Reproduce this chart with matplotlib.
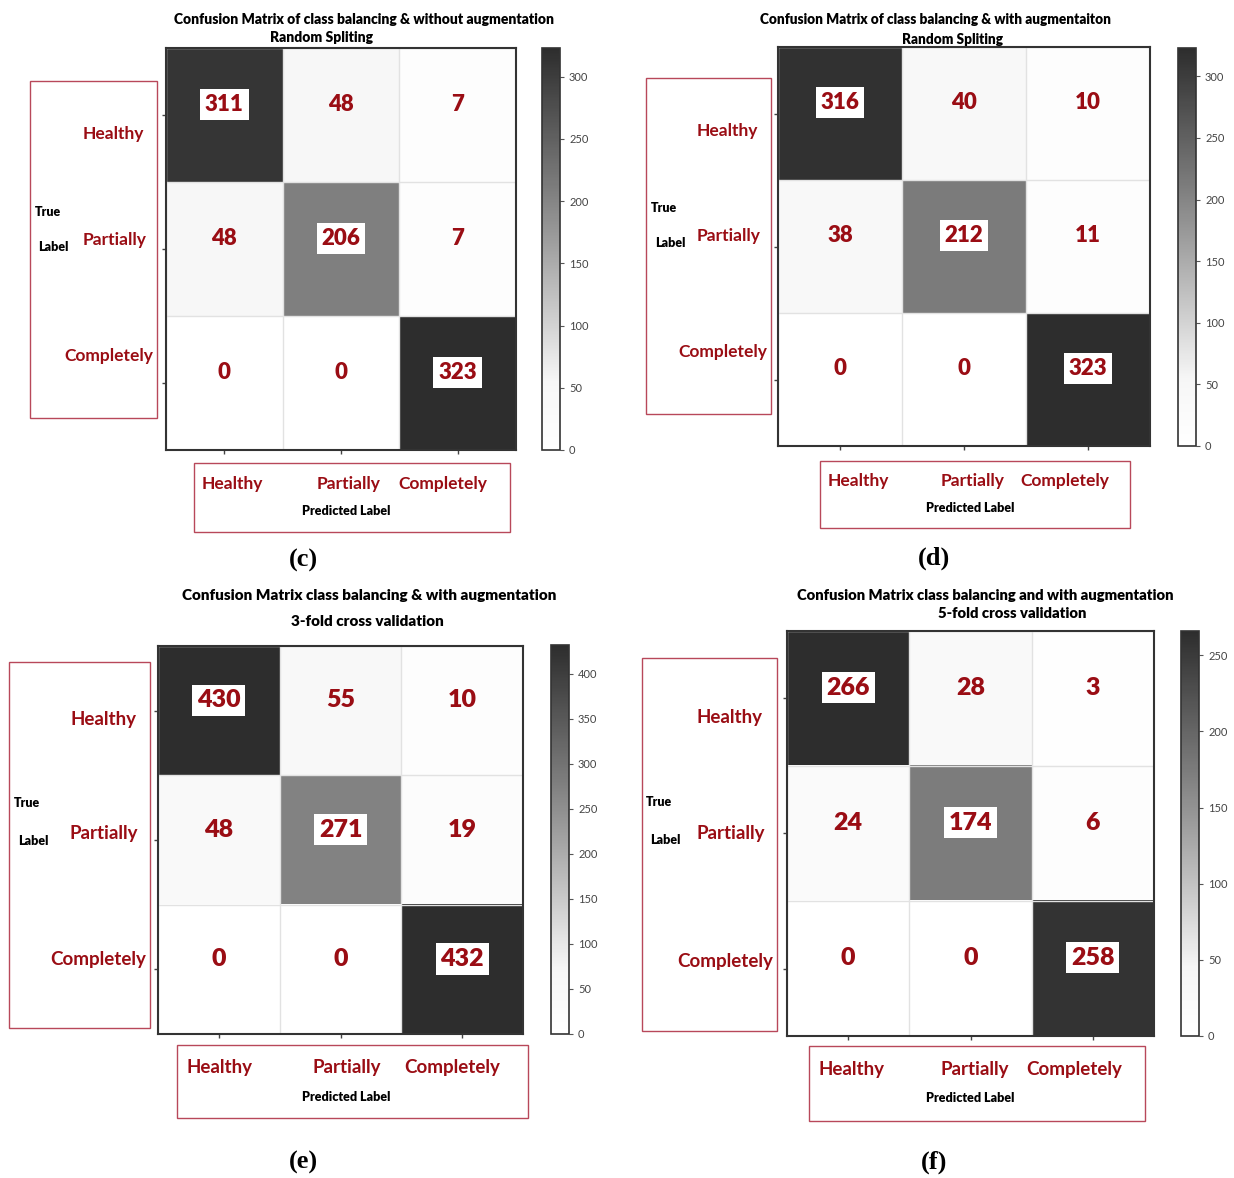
import numpy as np
import matplotlib
matplotlib.use('Agg')
import matplotlib.pyplot as plt
from matplotlib.colors import LinearSegmentedColormap
from matplotlib.patches import Rectangle

plt.rcParams['font.family'] = ['Lato', 'DejaVu Sans']

W, H = 1234, 1178

classes = ['Healthy', 'Partially', 'Completely']

cm_c = [[311, 48, 7], [48, 206, 7], [0, 0, 323]]
cm_d = [[316, 40, 10], [38, 212, 11], [0, 0, 323]]
cm_e = [[430, 55, 10], [48, 271, 19], [0, 0, 432]]
cm_f = [[266, 28, 3], [24, 174, 6], [0, 0, 258]]

titles_c = ['Confusion Matrix of class balancing & without augmentation', 'Random Spliting']
titles_d = ['Confusion Matrix of class balancing & with augmentaiton', 'Random Spliting']
titles_e = ['Confusion Matrix class balancing & with augmentation', '3-fold cross validation']
titles_f = ['Confusion Matrix class balancing and with augmentation', '5-fold cross validation']

captions = ['(c)', '(d)', '(e)', '(f)']
cbar_ticks_c = [0, 50, 100, 150, 200, 250, 300]
cbar_ticks_d = [0, 50, 100, 150, 200, 250, 300]
cbar_ticks_e = [0, 50, 100, 150, 200, 250, 300, 350, 400]
cbar_ticks_f = [0, 50, 100, 150, 200, 250]

red = '#9a0d14'
boxred = '#b8485a'
cmap = LinearSegmentedColormap.from_list(
    'gr', [(0, '#ffffff'), (0.17, '#f6f6f6'), (0.63, '#828282'), (1, '#2d2d2d')])

# pixel layout of each panel
panels = [
    dict(cm=cm_c, titles=titles_c, ticks=cbar_ticks_c, cap=captions[0],
         ax=(166, 48, 516, 450), cb=(542, 48, 560, 450), lbox=(30, 81, 157, 418),
         rows=[(144, 134), (146, 240), (153, 356)], true=(35, 212), lab=(38, 247),
         bbox=(194, 463, 510, 532), cols=[202, 317, 398], coly=484, pred=(346, 511),
         t1=(364, 20), t2=(322, 38), tfs=10, capxy=(303, 560), fs=16, lfs=12.5),
    dict(cm=cm_d, titles=titles_d, ticks=cbar_ticks_d, cap=captions[1],
         ax=(778, 47, 1150, 446), cb=(1178, 48, 1196, 446), lbox=(646, 78, 771, 414),
         rows=[(758, 131), (760, 236), (767, 352)], true=(651, 208), lab=(655, 243),
         bbox=(820, 461, 1130, 528), cols=[828, 941, 1020], coly=481, pred=(970, 508),
         t1=(935, 20), t2=(952, 39), tfs=9.8, capxy=(934, 558), fs=16, lfs=12.5),
    dict(cm=cm_e, titles=titles_e, ticks=cbar_ticks_e, cap=captions[2],
         ax=(158, 646, 523, 1034), cb=(551, 645, 569, 1034), lbox=(9, 662, 150, 1028),
         rows=[(136, 720), (138, 833), (146, 960)], true=(14, 803), lab=(18, 841),
         bbox=(177, 1045, 528, 1118), cols=[186, 313, 404], coly=1068, pred=(346, 1097),
         t1=(369, 596), t2=(367, 622), tfs=11, capxy=(303, 1162), fs=18, lfs=13.5),
    dict(cm=cm_f, titles=titles_f, ticks=cbar_ticks_f, cap=captions[3],
         ax=(787, 631, 1154, 1036), cb=(1181, 631, 1199, 1036), lbox=(642, 658, 777, 1031),
         rows=[(762, 717), (765, 833), (773, 961)], true=(646, 802), lab=(650, 840),
         bbox=(809, 1046, 1145, 1121), cols=[818, 940, 1026], coly=1069, pred=(970, 1098),
         t1=(985, 595), t2=(1012, 614), tfs=10.6, capxy=(934, 1162), fs=18, lfs=13.5),
]


def rect(x0, y0, x1, y1):
    return [x0 / W, 1 - y1 / H, (x1 - x0) / W, (y1 - y0) / H]


def fx(x):
    return x / W


def fy(y):
    return 1 - y / H


fig = plt.figure(figsize=(W / 100, H / 100), dpi=100)

for p in panels:
    cm = np.array(p['cm'])
    ax = fig.add_axes(rect(*p['ax']))
    im = ax.imshow(cm, cmap=cmap, vmin=0, vmax=cm.max(), aspect='auto', interpolation='nearest')
    ax.set_xticks(range(3))
    ax.set_yticks(range(3))
    ax.set_xticklabels([])
    ax.set_yticklabels([])
    ax.tick_params(length=3, width=1, color='#444444')
    ax.set_xticks(np.arange(-0.5, 3, 1), minor=True)
    ax.set_yticks(np.arange(-0.5, 3, 1), minor=True)
    ax.grid(which='minor', color='#e2e2e2', linewidth=1)
    ax.tick_params(which='minor', length=0)
    for s in ax.spines.values():
        s.set_color('#333333')
        s.set_linewidth(1.5)
    for i in range(3):
        for j in range(3):
            kw = {}
            if i == j:
                kw['bbox'] = dict(facecolor='white', edgecolor='none', pad=3.5)
            ax.text(j, i - 0.08, str(cm[i, j]), ha='center', va='center', color=red,
                    fontsize=p['fs'], fontweight='heavy', **kw)

    cax = fig.add_axes(rect(*p['cb']))
    cb = fig.colorbar(im, cax=cax, ticks=p['ticks'])
    cb.outline.set_edgecolor('#333333')
    cb.outline.set_linewidth(1.2)
    cax.tick_params(labelsize=8, length=3, color='#555555', labelcolor='#444444')

    # left red box with true labels
    x0, y0, x1, y1 = p['lbox']
    fig.patches.append(Rectangle((fx(x0), fy(y1)), fx(x1 - x0), (y1 - y0) / H, transform=fig.transFigure,
                                 fill=False, edgecolor=boxred, linewidth=1))
    for name, (rx, ry) in zip(classes, p['rows']):
        fig.text(fx(rx), fy(ry), name, ha='right', va='center', color=red, fontsize=p['lfs'],
                 fontweight='bold')
    fig.text(fx(p['true'][0]), fy(p['true'][1]), 'True', ha='left', va='center', fontsize=9, fontweight='heavy')
    fig.text(fx(p['lab'][0]), fy(p['lab'][1]), 'Label', ha='left', va='center', fontsize=9, fontweight='heavy')

    # bottom red box with predicted labels
    x0, y0, x1, y1 = p['bbox']
    fig.patches.append(Rectangle((fx(x0), fy(y1)), fx(x1 - x0), (y1 - y0) / H, transform=fig.transFigure,
                                 fill=False, edgecolor=boxred, linewidth=1))
    for name, cx in zip(classes, p['cols']):
        fig.text(fx(cx), fy(p['coly']), name, ha='left', va='center', color=red, fontsize=p['lfs'],
                 fontweight='bold')
    fig.text(fx(p['pred'][0]), fy(p['pred'][1]), 'Predicted Label', ha='center', va='center',
             fontsize=9, fontweight='heavy')

    fig.text(fx(p['t1'][0]), fy(p['t1'][1]), p['titles'][0], ha='center', va='center', fontsize=p['tfs'],
             fontweight='heavy')
    fig.text(fx(p['t2'][0]), fy(p['t2'][1]), p['titles'][1], ha='center', va='center', fontsize=p['tfs'],
             fontweight='heavy')
    fig.text(fx(p['capxy'][0]), fy(p['capxy'][1]), p['cap'], ha='center', va='center', fontsize=19,
             fontweight='bold', family=['Liberation Serif', 'DejaVu Serif'])

fig.savefig('out.png', dpi=100)
